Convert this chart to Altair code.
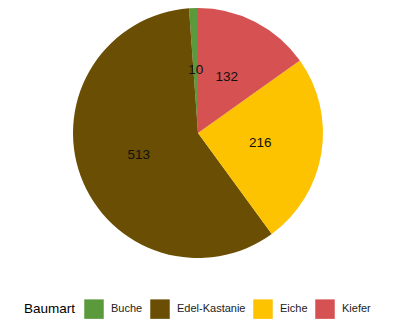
import altair as alt
import pandas as pd

baumart = ["Buche", "Edel-Kastanie", "Eiche", "Kiefer"]
anzahl = [10, 513, 216, 132]
reihenfolge = [3, 2, 1, 0]
farben = ["#5a9a3c", "#6a4e03", "#fdc200", "#d65152"]

df = pd.DataFrame({"Baumart": baumart, "n": anzahl, "ord": reihenfolge})

base = alt.Chart(df).encode(
    theta=alt.Theta("n:Q", stack=True),
    order=alt.Order("ord:Q", sort="ascending"),
)

arcs = base.mark_arc(outerRadius=125).encode(
    color=alt.Color(
        "Baumart:N",
        scale=alt.Scale(domain=baumart, range=farben),
        legend=alt.Legend(
            orient="none",
            legendX=24,
            legendY=299,
            direction="horizontal",
            titleOrient="left",
            symbolType="square",
            symbolSize=380,
            symbolStrokeWidth=0,
            symbolOpacity=1,
            labelFontSize=11,
            labelColor="#222222",
            labelOffset=7,
            columnPadding=7,
            titleFontSize=13.5,
            titleFontWeight="normal",
            titleColor="#000000",
            titlePadding=8,
        ),
    )
)

text = base.mark_text(radius=63, fontSize=13.5, color="#111111").encode(text="n:Q")

chart = (
    (arcs + text)
    .properties(width=396, height=266, padding=0, autosize=alt.AutoSizeParams(type="pad"))
    .configure(font="Liberation Sans")
    .configure_view(stroke="transparent")
)

chart.save("out.html", embed_options={"renderer": "svg", "actions": False})
